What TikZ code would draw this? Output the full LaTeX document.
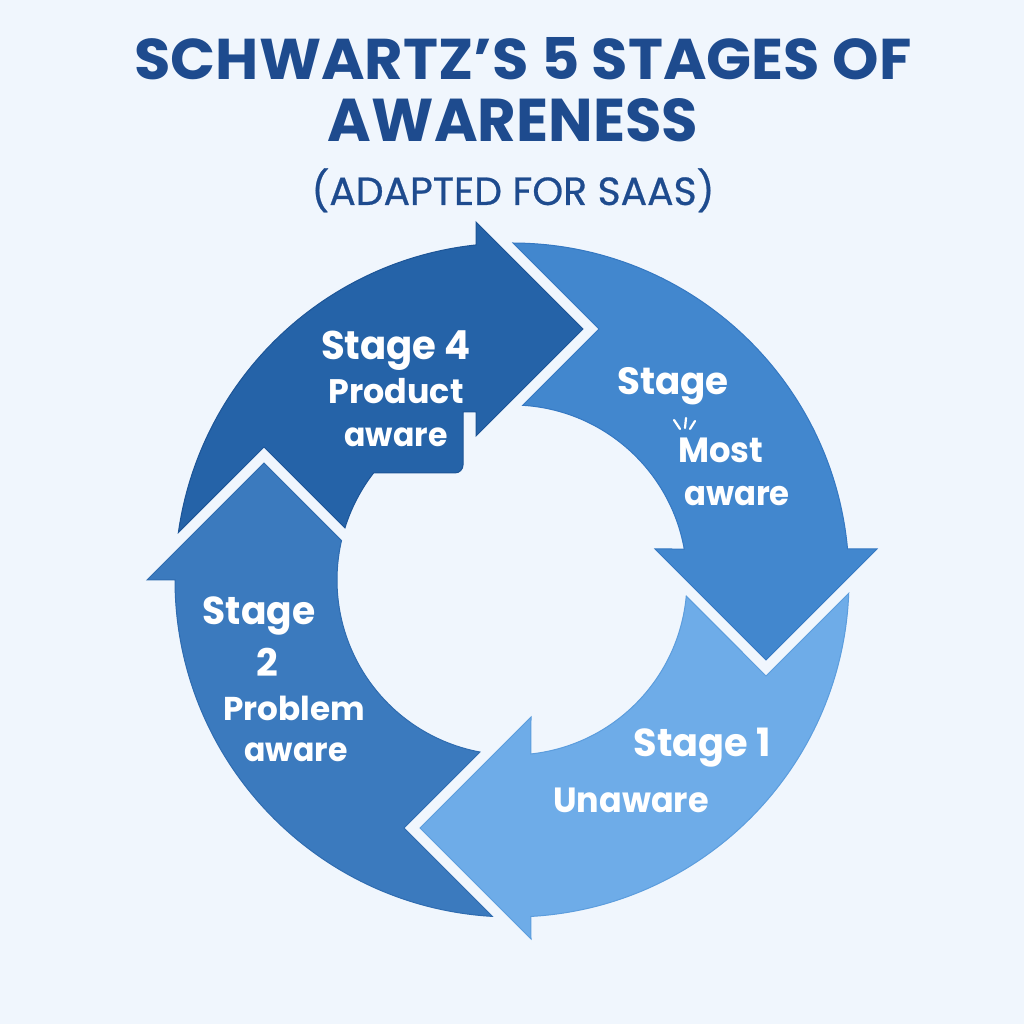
\documentclass[tikz,border=0pt]{standalone}
\usepackage{fontspec}
\setmainfont{Poppins}
\usepackage{graphicx}
\definecolor{bgc}{HTML}{F0F6FD}
\definecolor{titlec}{HTML}{1E4B8E}
\definecolor{cfour}{HTML}{2563A8}
\definecolor{cfourd}{HTML}{1D5597}
\definecolor{ctwo}{HTML}{3B7ABE}
\definecolor{ctwod}{HTML}{2F6CB0}
\definecolor{cfive}{HTML}{4287CE}
\definecolor{cfived}{HTML}{3578C2}
\definecolor{cone}{HTML}{6EACE8}
\definecolor{coned}{HTML}{5C9DDD}
\tikzset{
  titletxt/.style={text=titlec, anchor=base, inner sep=0pt},
  lbl/.style={text=white, anchor=base, inner sep=0pt},
  seg/.style={line width=1pt, line join=miter},
}
\newcommand{\lb}[3]{\scalebox{#2}[1]{\fontsize{#1}{#1}\selectfont\bfseries #3}}
\begin{document}
\begin{tikzpicture}[x=1pt,y=1pt]
\useasboundingbox (0,0) rectangle (1024,1024);
\fill[bgc] (0,0) rectangle (1024,1024);

% title
\node[titletxt] (t1) at (523,944) {\resizebox{777pt}{42pt}{\bfseries SCHWARTZ’S 5 STAGES OF}};
\node[titletxt] (t2) at (513,882) {\resizebox{370pt}{43pt}{\bfseries AWARENESS}};
\node[titletxt] (t3) at (513,819) {\resizebox{403pt}{!}{\addfontfeature{FakeBold=0.6}(ADAPTED FOR SAAS)}};

\begin{scope}[shift={(512,444)}]
% Stage 2 (left)
\filldraw[seg, fill=ctwo, draw=ctwod]
  (266.67:337) arc[start angle=266.67, end angle=180, radius=337]
  -- (-365,0) -- (-248,117) -- (167:175)
  arc[start angle=167, end angle=259.45, radius=175]
  -- (-108,-248) -- cycle;
% Stage 4 (top left)
\filldraw[seg, fill=cfour, draw=cfourd]
  (171.9:337) arc[start angle=171.9, end angle=96.13, radius=337]
  -- (-36,358) -- (71,251) -- (-36,144) -- (-36,168) -- (-49,168)
  -- (-49,115) arc[start angle=0, end angle=-90, radius=8]
  -- (142.3:175) arc[start angle=142.3, end angle=162.7, radius=175]
  -- (-248,133) -- cycle;
% Stage 5 (right)
\filldraw[seg, fill=cfive, draw=cfived]
  (365,31) -- (5.28:337) arc[start angle=5.28, end angle=89.83, radius=337]
  -- (87,251) -- (86.5:175) arc[start angle=86.5, end angle=10.2, radius=175]
  -- (143,31) -- (254,-80) -- cycle;
% Stage 1 (bottom right)
\filldraw[seg, fill=cone, draw=coned]
  (-92,-248) -- (19,-137) -- (276.2:175)
  arc[start angle=276.2, end angle=354.7, radius=175]
  -- (254,-96) -- (357.74:337)
  arc[start angle=357.74, end angle=273.2, radius=337]
  -- (19,-359) -- cycle;
\end{scope}

% labels stage 4
\node[lbl] (s4a) at (396,664) {\lb{40}{0.965}{Stage 4}};
\node[lbl] (s4b) at (396,620) {\lb{34}{0.98}{Product}};
\node[lbl] (s4c) at (396,577) {\lb{33}{0.955}{aware}};
% labels stage 5
\node[lbl] (s5a) at (673,629) {\lb{38}{0.98}{Stage}};
\node[lbl] (s5b) at (721,561) {\lb{35}{0.965}{Most}};
\node[lbl] (s5c) at (737,518) {\lb{34}{0.95}{aware}};
\draw[white, line width=2.2pt, line cap=round] (680,595) -- (674,604);
\draw[white, line width=2.2pt, line cap=round] (685,596) -- (686,606);
\draw[white, line width=2.2pt, line cap=round] (690,595) -- (695,603);
% labels stage 2
\node[lbl] (s2a) at (259,399) {\lb{39}{0.965}{Stage}};
\node[lbl] (s2b) at (267,347) {\lb{38}{1}{2}};
\node[lbl] (s2c) at (294,303) {\lb{33}{0.99}{Problem}};
\node[lbl] (s2d) at (296,262) {\lb{33}{0.955}{aware}};
% labels stage 1
\node[lbl] (s1a) at (702,267) {\lb{39}{0.98}{Stage 1}};
\node[lbl] (s1b) at (631,211) {\lb{35}{0.955}{Unaware}};
\end{tikzpicture}
\end{document}
